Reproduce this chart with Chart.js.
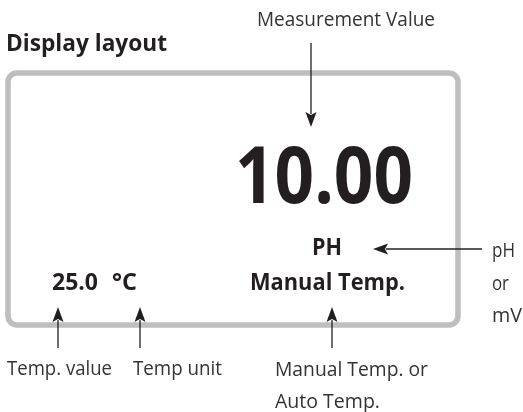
<!DOCTYPE html>
<html>
<head>
<meta charset="utf-8">
<script src="https://cdn.jsdelivr.net/npm/chart.js@4/dist/chart.umd.min.js"></script>
<style>
  html, body { margin: 0; padding: 0; background: #ffffff; }
  #wrap { width: 523px; height: 412px; position: relative; }
</style>
</head>
<body>
<div id="wrap"><canvas id="c" width="523" height="412"></canvas></div>
<script>
// ---- content (text values) ----
const titleText = 'Display layout';
const displayReadings = ['10.00', 'PH', '25.0', '°C', 'Manual Temp.'];
const calloutLabels = ['Measurement Value', 'pH', 'or', 'mV', 'Temp. value', 'Temp unit', 'Manual Temp. or', 'Auto Temp.'];

// ---- layout (positions in canvas units, separate from content) ----
const FONT = '"Open Sans", "Noto Sans", sans-serif';
const INK = '#231f20';
const LABEL_INK = '#333333';
const layout = {
  title:    {x: 6,   y: 51,  w: 161, size: 22.5, weight: 700},
  readings: [
    {x: 235, y: 203, w: 178, size: 79, weight: 700},
    {x: 312, y: 255, w: 30,  size: 23, weight: 700},
    {x: 52,  y: 290, w: 46,  size: 23.5, weight: 700},
    {x: 112, y: 290, w: 25,  size: 23.5, weight: 700},
    {x: 250, y: 290, w: 155, size: 23.5, weight: 700}
  ],
  labels: [
    {x: 257, y: 26,  w: 178, size: 19.5},
    {x: 492, y: 257, w: 23,  size: 19.5},
    {x: 492, y: 290, w: 17,  size: 19.5},
    {x: 492, y: 322, w: 30,  size: 19.5},
    {x: 7,   y: 375, w: 105, size: 19.5},
    {x: 133, y: 375, w: 89,  size: 19.5},
    {x: 275, y: 376, w: 153, size: 19.5},
    {x: 275, y: 408, w: 105, size: 19.5}
  ],
  box: {x0: 8, y0: 73, x1: 458, y1: 325, r: 9, lw: 5.5, color: '#bcbec0'},
  arrows: [
    {x0: 311, y0: 43,  x1: 311, y1: 127},
    {x0: 482, y0: 249, x1: 373, y1: 249},
    {x0: 58,  y0: 348, x1: 58,  y1: 307},
    {x0: 140, y0: 348, x1: 140, y1: 307},
    {x0: 332, y0: 348, x1: 332, y1: 307}
  ]
};

const diagramPlugin = {
  id: 'diagram',
  afterDraw(chart) {
    const ctx = chart.ctx;
    const sx = chart.scales.x, sy = chart.scales.y;
    const px = v => sx.getPixelForValue(v);
    const py = v => sy.getPixelForValue(v);

    function text(str, spec, color) {
      ctx.save();
      ctx.font = (spec.weight || 400) + ' ' + spec.size + 'px ' + FONT;
      ctx.fillStyle = color;
      ctx.textBaseline = 'alphabetic';
      ctx.textAlign = 'left';
      const m = ctx.measureText(str).width;
      const x0 = px(spec.x), x1 = px(spec.x + spec.w);
      ctx.translate(x0, py(spec.y));
      ctx.scale((x1 - x0) / m, 1);
      ctx.fillText(str, 0, 0);
      ctx.restore();
    }

    // display frame
    const b = layout.box;
    ctx.save();
    ctx.strokeStyle = b.color;
    ctx.lineWidth = b.lw;
    ctx.beginPath();
    ctx.roundRect(px(b.x0), py(b.y0), px(b.x1) - px(b.x0), py(b.y1) - py(b.y0), b.r);
    ctx.stroke();
    ctx.restore();

    // title
    text(titleText, layout.title, INK);
    // display readings
    displayReadings.forEach((t, i) => text(t, layout.readings[i], INK));
    // callout labels
    calloutLabels.forEach((t, i) => text(t, layout.labels[i], LABEL_INK));

    // arrows
    ctx.save();
    ctx.strokeStyle = INK;
    ctx.fillStyle = INK;
    ctx.lineWidth = 1.3;
    layout.arrows.forEach(a => {
      const x0 = px(a.x0), y0 = py(a.y0), x1 = px(a.x1), y1 = py(a.y1);
      const ang = Math.atan2(y1 - y0, x1 - x0);
      const L = 15, H = 5.5;
      const bx = x1 - L * Math.cos(ang), by = y1 - L * Math.sin(ang);
      ctx.beginPath();
      ctx.moveTo(x0, y0);
      ctx.lineTo(bx + 2 * Math.cos(ang), by + 2 * Math.sin(ang));
      ctx.stroke();
      ctx.beginPath();
      ctx.moveTo(x1, y1);
      ctx.lineTo(bx - H * Math.sin(ang), by + H * Math.cos(ang));
      ctx.lineTo(bx + 3 * Math.cos(ang), by + 3 * Math.sin(ang));
      ctx.lineTo(bx + H * Math.sin(ang), by - H * Math.cos(ang));
      ctx.closePath();
      ctx.fill();
    });
    ctx.restore();
  }
};

new Chart(document.getElementById('c'), {
  type: 'scatter',
  data: { datasets: [{ data: [] }] },
  options: {
    responsive: false,
    animation: false,
    events: [],
    layout: { padding: 0 },
    plugins: { legend: { display: false }, tooltip: { enabled: false } },
    scales: {
      x: { type: 'linear', min: 0, max: 523, display: false },
      y: { type: 'linear', min: 0, max: 412, reverse: true, display: false }
    }
  },
  plugins: [diagramPlugin]
});
</script>
</body>
</html>
